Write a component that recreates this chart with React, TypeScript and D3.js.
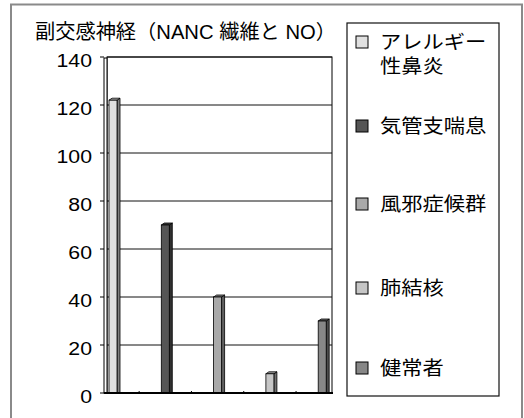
import React from "react";
import * as d3 from "d3";

// Chart data
const title = "副交感神経（NANC 繊維と NO）";
const seriesNames = ["アレルギー性鼻炎", "気管支喘息", "風邪症候群", "肺結核", "健常者"];
const legendLines = [["アレルギー", "性鼻炎"], ["気管支喘息"], ["風邪症候群"], ["肺結核"], ["健常者"]];
const seriesValues = [122, 70, 40, 8, 30];
const seriesColors = ["#e0e0e0", "#555555", "#a9a9a9", "#c6c6c6", "#878787"];
const yTicks = [0, 20, 40, 60, 80, 100, 120, 140];

const W = 524;
const H = 418;
const FONT = "'Liberation Sans', Arial, 'Noto Sans CJK JP', sans-serif";

// plot geometry
const wallLeft = 104;
const plotLeft = 107;
const plotRight = 332;
const plotTop = 57;
const plotBottom = 393;
const depthX = 3;
const depthY = 2;
const labelDrop = 3;

// legend layout
const legendBox = { x: 347, y: 23, w: 152, h: 373 };
const legendCenters = [42, 126, 204, 288, 368];
const lineGap = 24;
const textStretch = 1.12;

export default function App() {
  const y = d3.scaleLinear().domain([0, 140]).range([plotBottom, plotTop]);
  const x = d3
    .scaleBand<string>()
    .domain(seriesNames)
    .range([109, 326.2])
    .paddingInner(0.847)
    .paddingOuter(0);
  const bw = x.bandwidth();

  const bars = seriesNames.map((name, i) => {
    const x0 = x(name) as number;
    const x1 = x0 + bw;
    const yt = y(seriesValues[i]);
    const yb = plotBottom;
    const c = d3.color(seriesColors[i])!;
    const side = c.darker(1.6).formatHex();
    const top = c.darker(0.6).formatHex();
    return (
      <g key={name}>
        <path
          d={`M${x1},${yb} L${x1},${yt} L${x1 + depthX},${yt - depthY} L${x1 + depthX},${yb} Z`}
          fill={side}
          stroke="#000"
          strokeWidth={0.8}
        />
        <path
          d={`M${x0},${yt} L${x0 + depthX},${yt - depthY} L${x1 + depthX},${yt - depthY} L${x1},${yt} Z`}
          fill={top}
          stroke="#000"
          strokeWidth={0.8}
        />
        <rect x={x0} y={yt} width={bw} height={yb - yt} fill={seriesColors[i]} stroke="#000" strokeWidth={0.8} />
      </g>
    );
  });

  // small floor marks between the columns
  const marks = seriesNames.slice(1).map((name, i) => {
    const a = (x(seriesNames[i]) as number) + bw;
    const b = x(name) as number;
    const mx = (a + b) / 2;
    return <line key={name} x1={mx} x2={mx} y1={plotBottom - 2} y2={plotBottom} stroke="#000" strokeWidth={1} />;
  });

  return (
    <svg
      width={W}
      height={H}
      style={{ position: "absolute", left: 0, top: 0, background: "#fff" }}
      fontFamily={FONT}
    >
      {/* chart area frame */}
      <rect x={11} y={4.5} width={511} height={430} fill="#fff" stroke="#8a8a8a" strokeWidth={2} />

      {/* title */}
      <text x={35} y={39} fontSize={20} fill="#000" textLength={301} lengthAdjust="spacingAndGlyphs">
        {title}
      </text>

      {/* back wall and grid */}
      <rect x={plotLeft} y={plotTop} width={plotRight - plotLeft} height={plotBottom - plotTop} fill="#fff" stroke="#000" strokeWidth={1} />
      {yTicks.map((t) => (
        <line key={t} x1={plotLeft} x2={plotRight} y1={y(t)} y2={y(t)} stroke="#111" strokeWidth={1} />
      ))}
      {/* side wall */}
      <rect x={wallLeft} y={plotTop + 1} width={plotLeft - wallLeft} height={plotBottom - plotTop - 1} fill="#fff" stroke="#000" strokeWidth={1} />

      {/* y axis ticks and labels */}
      {yTicks.map((t) => (
        <g key={t}>
          <line x1={wallLeft - 4} x2={wallLeft} y1={y(t)} y2={y(t)} stroke="#000" strokeWidth={1} />
          <text
            transform={`translate(92,${y(t) + labelDrop}) scale(${textStretch},1)`}
            dy="0.36em"
            textAnchor="end"
            fontSize={19}
            fill="#000"
          >
            {t}
          </text>
        </g>
      ))}

      {bars}

      {/* floor */}
      <line x1={wallLeft} x2={plotRight + 1} y1={plotBottom} y2={plotBottom} stroke="#000" strokeWidth={2} />
      {marks}

      {/* legend */}
      <rect x={legendBox.x} y={legendBox.y} width={legendBox.w} height={legendBox.h} fill="#fff" stroke="#111" strokeWidth={1.2} />
      {legendLines.map((lines, i) => {
        const cy = legendCenters[i];
        return (
          <g key={i}>
            <rect x={356} y={cy - 6} width={12} height={12} fill={seriesColors[i]} stroke="#000" strokeWidth={1} />
            {lines.map((ln, j) => (
              <text
                key={j}
                transform={`translate(380,${cy + j * lineGap}) scale(${textStretch},1)`}
                dy="0.36em"
                fontSize={19}
                fill="#000"
              >
                {ln}
              </text>
            ))}
          </g>
        );
      })}
    </svg>
  );
}
